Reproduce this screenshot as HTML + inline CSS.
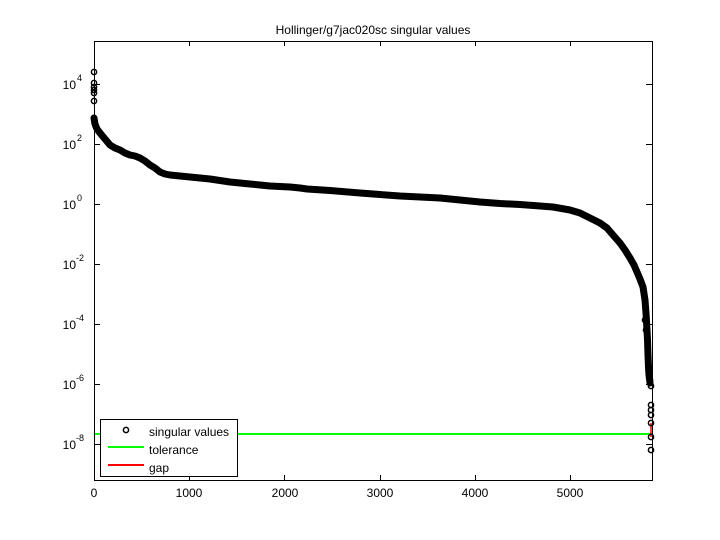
<!DOCTYPE html>
<html><head><meta charset="utf-8"><style>
html,body{margin:0;padding:0;background:#fff;}
svg{display:block;}
text{font-family:"Liberation Sans",Arial,sans-serif;fill:#000;}
</style></head><body>
<svg width="720" height="540" viewBox="0 0 720 540" xmlns="http://www.w3.org/2000/svg">
<rect x="0" y="0" width="720" height="540" fill="#fff"/>
<text x="373" y="34" font-size="12" text-anchor="middle">Hollinger/g7jac020sc singular values</text>
<!-- tolerance line -->
<line x1="94" y1="434" x2="652" y2="434" stroke="#00ff00" stroke-width="2"/>
<!-- gap -->
<line x1="651" y1="423" x2="651" y2="437" stroke="#ff0000" stroke-width="1.5"/>
<!-- dense band -->
<polyline fill="none" stroke="#000" stroke-width="7" stroke-linejoin="round" stroke-linecap="round" points="94,118 95,124 97,129 100,133 105,139 110,145 115,148 120,150 125,153 130,155 135,156 140,158 145,161 150,165 155,168 160,172 165,174 170,175 180,176 190,177 200,178 210,179 220,180.5 230,182 240,183 250,184 260,185 270,186 280,186.5 290,187 300,188 307,189 330,190.5 360,193 380,194.5 400,196 420,197 440,198 460,200 480,202 500,203.5 520,204.5 540,206 553,207 570,210 580,213 590,218 600,223 607,228 613,235 620,243 625,250 630,258 634,265 637,272 640,279 643,287 645,300 646,313 647,330 647.5,340 648,355 648.5,367 649,375 650,383"/>
<g fill="none" stroke="#000" stroke-width="1.5">
<circle cx="94" cy="72" r="2.6"/>
<circle cx="94" cy="83" r="2.6"/>
<circle cx="94" cy="87" r="2.6"/>
<circle cx="94" cy="90" r="2.6"/>
<circle cx="94" cy="93" r="2.6"/>
<circle cx="94" cy="101" r="2.6"/>
<circle cx="645" cy="320" r="2.6"/>
<circle cx="646" cy="330" r="2.6"/>
<circle cx="649" cy="372" r="2.6"/>
<circle cx="650" cy="380" r="2.6"/>
<circle cx="651" cy="386" r="2.6"/>
<circle cx="651" cy="405" r="2.6"/>
<circle cx="651" cy="410" r="2.6"/>
<circle cx="651" cy="415" r="2.6"/>
<circle cx="651" cy="423" r="2.6"/>
<circle cx="651" cy="437" r="2.6"/>
<circle cx="651" cy="450" r="2.6"/>
</g>
<!-- axes box -->
<rect x="94.5" y="41.5" width="558" height="439" fill="none" stroke="#000" stroke-width="1"/>
<!-- x ticks -->
<g stroke="#000" stroke-width="1">
<line x1="94.5" y1="480" x2="94.5" y2="475"/><line x1="94.5" y1="41" x2="94.5" y2="46"/>
<line x1="189.5" y1="480" x2="189.5" y2="475"/><line x1="189.5" y1="41" x2="189.5" y2="46"/>
<line x1="284.5" y1="480" x2="284.5" y2="475"/><line x1="284.5" y1="41" x2="284.5" y2="46"/>
<line x1="380.5" y1="480" x2="380.5" y2="475"/><line x1="380.5" y1="41" x2="380.5" y2="46"/>
<line x1="475.5" y1="480" x2="475.5" y2="475"/><line x1="475.5" y1="41" x2="475.5" y2="46"/>
<line x1="570.5" y1="480" x2="570.5" y2="475"/><line x1="570.5" y1="41" x2="570.5" y2="46"/>
<!-- y ticks -->
<line x1="94" y1="84.5" x2="100" y2="84.5"/><line x1="652" y1="84.5" x2="646" y2="84.5"/>
<line x1="94" y1="144.5" x2="100" y2="144.5"/><line x1="652" y1="144.5" x2="646" y2="144.5"/>
<line x1="94" y1="204.5" x2="100" y2="204.5"/><line x1="652" y1="204.5" x2="646" y2="204.5"/>
<line x1="94" y1="264.5" x2="100" y2="264.5"/><line x1="652" y1="264.5" x2="646" y2="264.5"/>
<line x1="94" y1="324.5" x2="100" y2="324.5"/><line x1="652" y1="324.5" x2="646" y2="324.5"/>
<line x1="94" y1="384.5" x2="100" y2="384.5"/><line x1="652" y1="384.5" x2="646" y2="384.5"/>
<line x1="94" y1="444.5" x2="100" y2="444.5"/><line x1="652" y1="444.5" x2="646" y2="444.5"/>
</g>
<!-- x tick labels -->
<g font-size="12" text-anchor="middle">
<text x="94" y="497">0</text>
<text x="189" y="497">1000</text>
<text x="285" y="497">2000</text>
<text x="380" y="497">3000</text>
<text x="475" y="497">4000</text>
<text x="570" y="497">5000</text>
</g>
<!-- y tick labels -->
<g font-size="12" text-anchor="end">
<text x="76" y="89">10</text>
<text x="76" y="149">10</text>
<text x="76" y="209">10</text>
<text x="76" y="269">10</text>
<text x="76" y="329">10</text>
<text x="76" y="389">10</text>
<text x="76" y="449">10</text>
</g>
<g font-size="9">
<text x="77" y="81">4</text>
<text x="77" y="141">2</text>
<text x="77" y="201">0</text>
<text x="76" y="261">-2</text>
<text x="76" y="321">-4</text>
<text x="76" y="381">-6</text>
<text x="76" y="441">-8</text>
</g>
<!-- legend -->
<rect x="100.5" y="419.5" width="137" height="57" fill="#fff" stroke="#000" stroke-width="1"/>
<circle cx="126" cy="430" r="2.6" fill="none" stroke="#000" stroke-width="1.5"/>
<line x1="108" y1="447" x2="144" y2="447" stroke="#00ff00" stroke-width="2"/>
<line x1="108" y1="465" x2="144" y2="465" stroke="#ff0000" stroke-width="2"/>
<g font-size="12">
<text x="149" y="436">singular values</text>
<text x="149" y="454">tolerance</text>
<text x="149" y="472">gap</text>
</g>
</svg>
</body></html>
